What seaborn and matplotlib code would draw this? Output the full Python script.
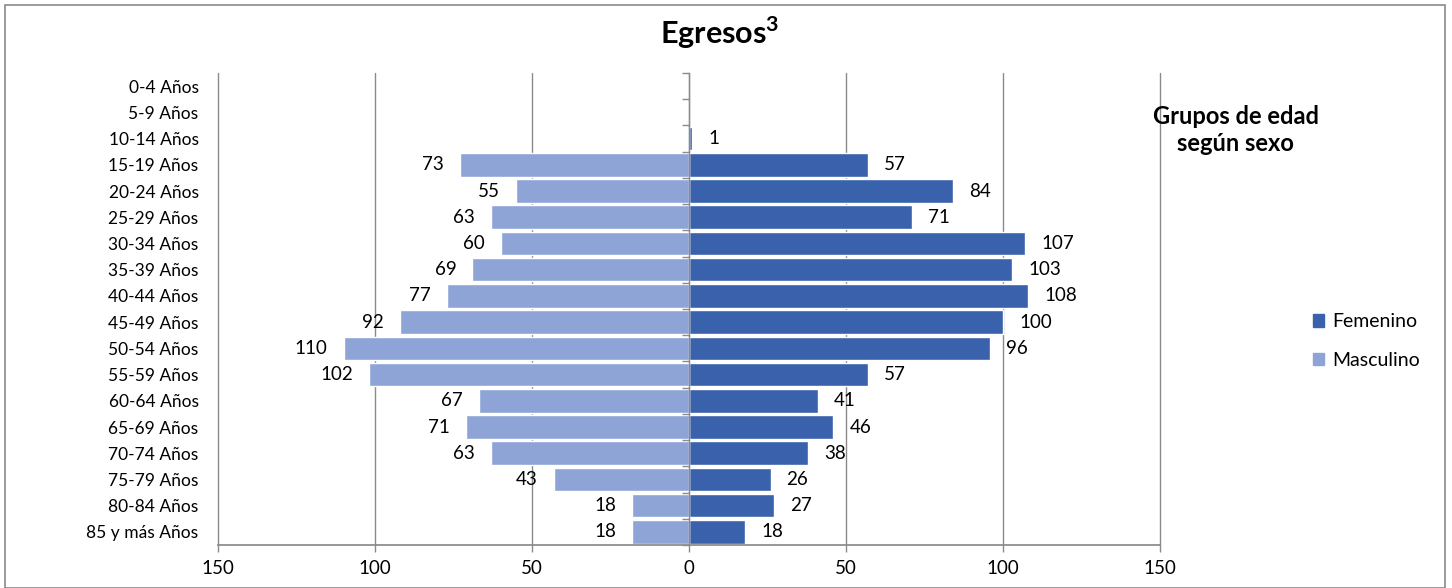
import numpy as np
import pandas as pd
import seaborn as sns
import matplotlib.pyplot as plt
from matplotlib.patches import Rectangle, Patch

# ---------------- Data ----------------
grupos = ["0-4 Años", "5-9 Años", "10-14 Años", "15-19 Años", "20-24 Años",
          "25-29 Años", "30-34 Años", "35-39 Años", "40-44 Años", "45-49 Años",
          "50-54 Años", "55-59 Años", "60-64 Años", "65-69 Años", "70-74 Años",
          "75-79 Años", "80-84 Años", "85 y más Años"]
femenino = [0, 0, 1, 57, 84, 71, 107, 103, 108, 100, 96, 57, 41, 46, 38, 26, 27, 18]
masculino = [0, 0, 0, 73, 55, 63, 60, 69, 77, 92, 110, 102, 67, 71, 63, 43, 18, 18]
x_ticks = [-150, -100, -50, 0, 50, 100, 150]

c_fem = "#3A62AC"
c_masc = "#8FA4D6"
gris = "#8A8A8A"

df = pd.DataFrame({"grupo": grupos, "Femenino": femenino, "Masculino": masculino})
df["Masculino_neg"] = -df["Masculino"]

# ---------------- Style ----------------
sns.set_theme(style="white")
plt.rcParams["font.family"] = ["Lato", "DejaVu Sans"]
plt.rcParams["text.color"] = "black"
plt.rcParams["mathtext.fontset"] = "custom"
plt.rcParams["mathtext.rm"] = "Lato"
plt.rcParams["mathtext.bf"] = "Lato:bold"

fig = plt.figure(figsize=(14.52, 5.88), dpi=100)
pos = [0.1501, 0.0731, 0.6488, 0.8027]
ax = fig.add_axes(pos)

sns.barplot(data=df, y="grupo", x="Femenino", order=grupos, color=c_fem,
            saturation=1, width=0.9, ax=ax)
sns.barplot(data=df, y="grupo", x="Masculino_neg", order=grupos, color=c_masc,
            saturation=1, width=0.9, ax=ax)

# data labels
ax.bar_label(ax.containers[0], labels=[str(v) if v else "" for v in femenino],
             padding=11.5, fontsize=13.5, color="black")
ax.bar_label(ax.containers[1], labels=[str(v) if v else "" for v in masculino],
             padding=11.5, fontsize=13.5, color="black")

# axes
ax.set_xlim(-150, 150)
ax.set_xticks(x_ticks)
ax.set_xticklabels([str(abs(t)) for t in x_ticks], fontsize=13.5)
ax.set_xlabel("")
ax.set_ylabel("")
ax.tick_params(axis="y", length=0, pad=14, labelsize=12.5, labelcolor="black")
ax.tick_params(axis="x", bottom=True, length=5, width=1, color=gris,
               direction="out", pad=6, labelcolor="black")
ax.grid(axis="x", color=gris, linewidth=1)
for gl in ax.get_xgridlines():
    gl.set_clip_on(False)
ax.set_axisbelow(True)
for s in ["top", "right", "left"]:
    ax.spines[s].set_visible(False)
ax.spines["bottom"].set_color(gris)

# vertical axis at zero with category tick marks (overlay axes)
ax0 = fig.add_axes(pos, facecolor="none")
ax0.set_ylim(ax.get_ylim())
ax0.set_xlim(0, 1)
for s in ["top", "right", "bottom"]:
    ax0.spines[s].set_visible(False)
ax0.spines["left"].set_position(("axes", 0.5))
ax0.spines["left"].set_color(gris)
ax0.spines["left"].set_linewidth(1)
ax0.set_xticks([])
ax0.set_yticks(np.arange(-0.5, len(grupos), 1))
ax0.set_yticklabels([])
ax0.tick_params(axis="y", left=True, length=5, width=1, color=gris, direction="out")

# titles
fig.text(0.496, 0.944, "Egresos$^{\\mathbf{3}}$", ha="center", va="center",
         fontsize=22, fontweight="bold")
fig.text(0.851, 0.779, "Grupos de edad\nsegún sexo", ha="center", va="center",
         fontsize=17, fontweight="bold", linespacing=1.25)

# legend
handles = [Patch(color=c_fem, label="Femenino"), Patch(color=c_masc, label="Masculino")]
fig.legend(handles=handles, loc="center left", bbox_to_anchor=(0.892, 0.42),
           frameon=False, fontsize=14, handlelength=0.6, handleheight=0.6,
           labelspacing=1.1, handletextpad=0.4)

# outer border
fig.add_artist(Rectangle((5 / 1452, 0), 1440 / 1452, 583 / 588, fill=False,
                         edgecolor=gris, linewidth=1.2, transform=fig.transFigure))

fig.savefig("out.png", dpi=100)
